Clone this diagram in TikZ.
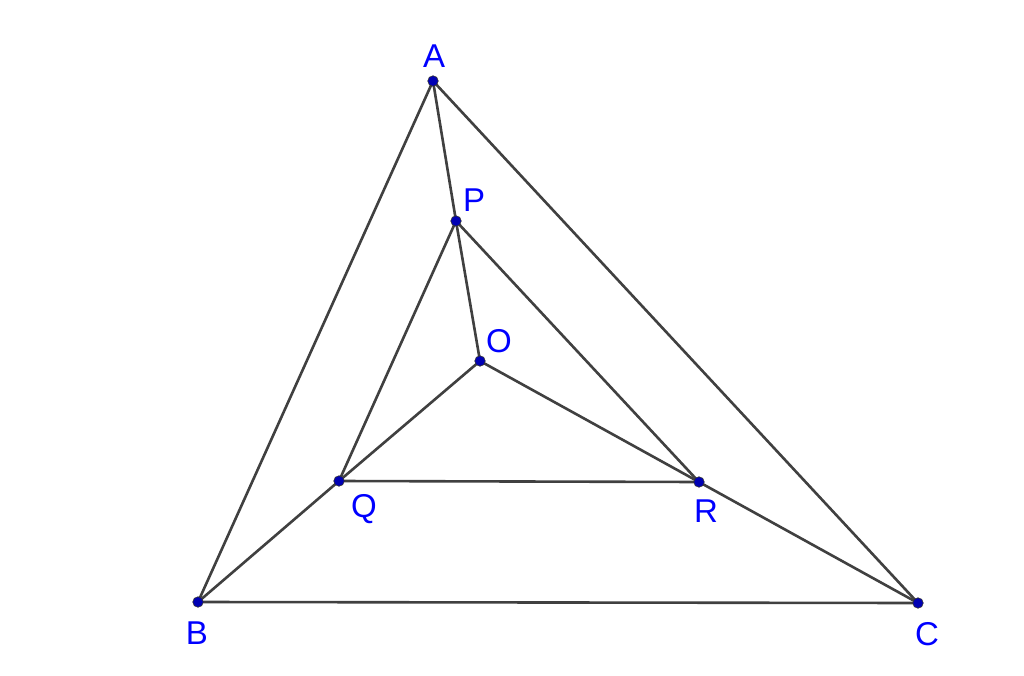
\documentclass[tikz,border=0pt]{standalone}
\usepackage{fontspec}
\setmainfont{Liberation Sans}
\definecolor{seg}{RGB}{64,64,64}
\definecolor{lbl}{RGB}{0,0,255}
\definecolor{pt}{RGB}{0,0,180}
\begin{document}
\begin{tikzpicture}[x=1pt,y=-1pt,
  segline/.style={draw=seg,line width=2.6pt},
  ptdot/.style={circle,fill=pt,draw=black!80,line width=0.6pt,inner sep=0pt,minimum size=10.5pt},
  ptlabel/.style={text=lbl,font=\fontsize{33}{35}\selectfont,inner sep=0pt}]
\useasboundingbox (0,0) rectangle (1024,676);
\fill[white] (0,0) rectangle (1024,676);
\coordinate (A) at (433,81);
\coordinate (B) at (198,602);
\coordinate (C) at (918,603);
\coordinate (P) at (456,221);
\coordinate (O) at (480,361);
\coordinate (Q) at (339,481);
\coordinate (R) at (699,482);
\draw[segline] (A) -- (B) -- (C) -- cycle;
\draw[segline] (A) -- (P) -- (O);
\draw[segline] (B) -- (Q) -- (O);
\draw[segline] (C) -- (R) -- (O);
\draw[segline] (P) -- (Q) -- (R) -- cycle;
\foreach \p in {A,B,C,P,O,Q,R} \node[ptdot] at (\p) {};
\node[ptlabel] (lA) at (434,56) {A};
\node[ptlabel] (lP) at (474,200) {P};
\node[ptlabel] (lO) at (499,341) {O};
\node[ptlabel] (lQ) at (364,509) {Q};
\node[ptlabel] (lR) at (706,511) {R};
\node[ptlabel] (lB) at (197,633) {B};
\node[ptlabel] (lC) at (927,634) {C};
\end{tikzpicture}
\end{document}
